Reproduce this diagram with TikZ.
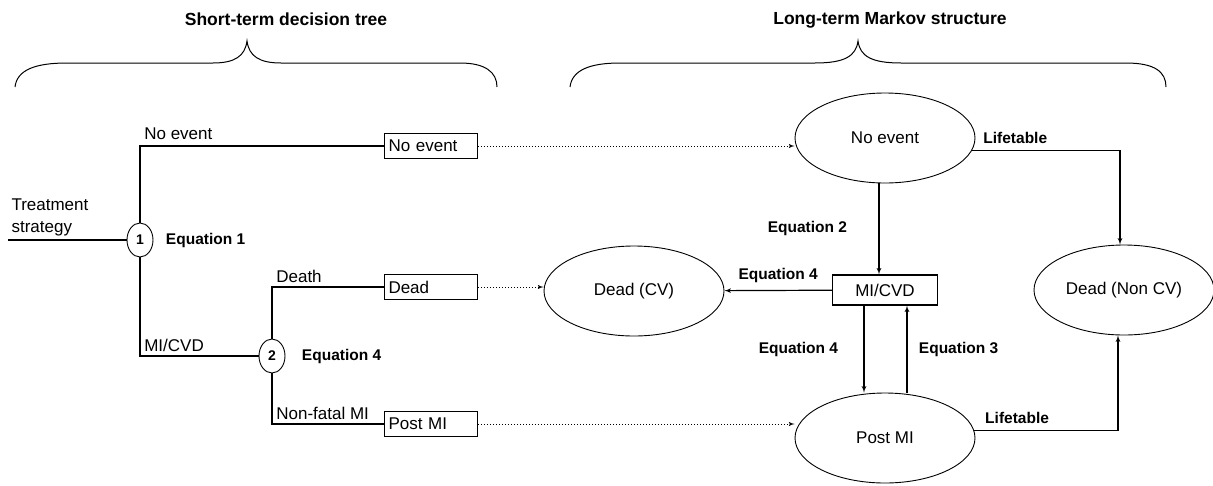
\documentclass[tikz,border=0pt]{standalone}
\usepackage{fontspec}
\setmainfont{Liberation Sans}
\usepackage{tikz}
\usetikzlibrary{arrows,positioning,shapes.geometric}

\begin{document}
\begin{tikzpicture}[x=1pt,y=-1pt,>=latex',on grid,
			font=\fontsize{17}{20}\selectfont]
				\tikzstyle{chance}=[ellipse,draw,line width=0.9pt,minimum width=26pt,
				minimum height=34pt,inner sep=0pt,font=\fontsize{14}{16}\selectfont\bfseries]
				\tikzstyle{leaf}=[rectangle,draw,line width=0.9pt,text width=85pt,align=left,
				inner xsep=4pt,inner ysep=0pt,minimum height=25pt]
				\tikzstyle{state}=[ellipse,draw,line width=0.9pt,minimum width=180pt,minimum height=90pt]
				\tikzstyle{branch}=[line width=2pt]
				\tikzstyle{trans}=[->,line width=1.2pt]
				\tikzstyle{link}=[->,dotted,line width=1pt]
				\tikzstyle{eq}=[font=\fontsize{15.5}{18}\selectfont\bfseries]
				\tikzstyle{heading}=[font=\fontsize{17.5}{20}\selectfont\bfseries]
				
				\useasboundingbox (0,0) rectangle (1213,485);
				
				% decision tree
				\node[chance] (c1) at (140,240) {1};
				\node[chance] (c2) 	[below right = 116pt and 132pt of c1] {2};
				\coordinate (start) at (8,240);
				
				\node[leaf] (bne) 	[above right = 94pt and 291pt of c1] {No event};
				\node[leaf] (bdead) [above right = 69pt and 159pt of c2] {Dead};
				\node[leaf] (bpost) [below right = 68pt and 159pt of c2] {Post MI};
				
				% markov part
				\node[state] (noev) 	[above right = 8pt and 454pt of bne] {No event};
				\node[state] (deadcv) 	[below right = 4pt and 203pt of bdead] {Dead (CV)};
				\node[rectangle,draw,line width=1.2pt,minimum width=105pt,minimum height=30pt]
						(mi) 		[below = 152pt of noev] {MI/CVD};
				\node[state] (deadncv) 	[right = 239pt of mi] {Dead (Non CV)};
				\node[state] (postmi) 	[below = 148pt of mi] {Post MI};
				
				\node[heading] (sttitle) at (286,19) {Short-term decision tree};
				\node[heading] (lttitle) at (890,20) {Long-term Markov structure};
				
				\node[align=left,anchor=south west,font=\fontsize{17}{22}\selectfont]
						(trt) at (start) {Treatment\\strategy};
				\node[eq,anchor=west] (eqa) at ([xshift=9pt]c1.east) {Equation 1};
				\node[eq,anchor=west] (eqb) at ([xshift=13pt]c2.east) {Equation 4};
				
				% braces
				\draw[line width=1pt] (15,87) .. controls (17,70) and (35,63) .. (67,63) -- (213,63)
						.. controls (235,63) and (245,56) .. (247,41)
						.. controls (249,56) and (259,63) .. (281,63) -- (460,63)
						.. controls (485,63) and (497,72) .. (497,87);
				\draw[line width=1pt] (570,87) .. controls (572,70) and (590,63) .. (620,63) -- (815,63)
						.. controls (845,63) and (856,56) .. (858,41)
						.. controls (860,56) and (871,63) .. (901,63) -- (1126,63)
						.. controls (1155,63) and (1166,72) .. (1166,87);
				
				\draw[branch] (start) -- (c1);
				\draw[branch] (c1) |- node[above right,pos=0.5,yshift=2pt] {No event} (bne);
				\draw[branch] (c1) |- node[above right,pos=0.5] {MI/CVD} (c2);
				\draw[branch] (c2) |- node[above right,pos=0.5] {Death} (bdead);
				\draw[branch] (c2) |- node[above right,pos=0.5] {Non-fatal MI} (bpost);
				
				\draw[link] (bne.east) -- (bne.east -| noev.west);
				\draw[link] (bdead.east) -- (bdead.east -| deadcv.west);
				\draw[link] (bpost.east) -- (bpost.east -| postmi.west);
				
				\draw[trans] ([xshift=-6pt]noev.south) -- node[eq,left=28pt] {Equation 2} ([xshift=-6pt]mi.north);
				\draw[trans] (mi) -- node[eq,above=4pt] {Equation 4} (deadcv);
				\draw[trans] ([xshift=-21pt]mi.south) -- node[eq,left=22pt] {Equation 4}
						([xshift=-21pt]mi.south |- postmi.north);
				\draw[trans] ([xshift=22pt]mi.south |- postmi.north) -- node[eq,right=8pt] {Equation 3}
						([xshift=22pt]mi.south);
				\draw[trans] (noev.-8) -| node[eq,above right,pos=0.025,yshift=3pt] {Lifetable}
						([xshift=-4pt]deadncv.north);
				\draw[trans] (postmi.5) -| node[eq,above right,pos=0.025,yshift=3pt] {Lifetable}
						([xshift=-6pt]deadncv.south);
\end{tikzpicture}
\end{document}
